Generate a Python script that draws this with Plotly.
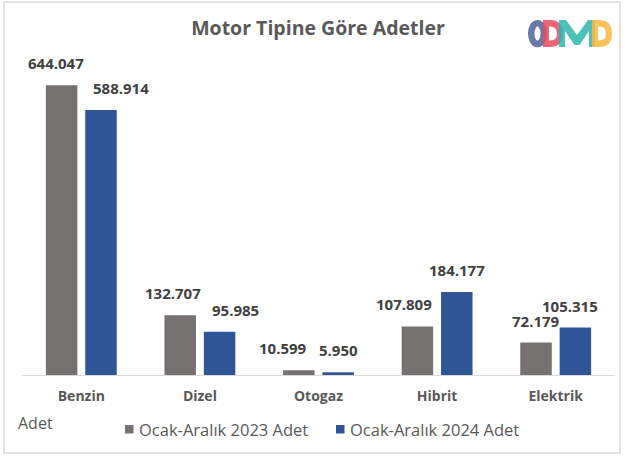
import plotly.graph_objects as go

# Data
categories = ["Benzin", "Dizel", "Otogaz", "Hibrit", "Elektrik"]
adet_2023 = [644047, 132707, 10599, 107809, 72179]
adet_2024 = [588914, 95985, 5950, 184177, 105315]
series_names = ["Ocak-Aralık 2023 Adet", "Ocak-Aralık 2024 Adet"]

# per-label horizontal nudges (px), as placed in the original
nudge_2023 = [-5, -7, -16, -13, 0]
nudge_2024 = [20, 16, 0, 0, -6]

W, H = 625, 456
L, R, T, B = 22, 10, 60, 81
GRAY = "#767171"
BLUE = "#2F5597"
FONT = "Open Sans"


def px(x):
    return (x - L) / (W - L - R)


def py(y):
    return (H - B - y) / (H - T - B)


def pt(x, y):
    return f"{px(x):.5f},{py(y):.5f}"


fig = go.Figure()
fig.add_trace(go.Bar(x=categories, y=adet_2023, name=series_names[0],
                     marker=dict(color=GRAY, line=dict(width=0))))
fig.add_trace(go.Bar(x=categories, y=adet_2024, name=series_names[1],
                     marker=dict(color=BLUE, line=dict(width=0))))


def fmt(v):
    return f"{v:,}".replace(",", ".")


# data labels
for vals, shift, nudges in [(adet_2023, -20, nudge_2023), (adet_2024, 20, nudge_2024)]:
    for c, v, n in zip(categories, vals, nudges):
        fig.add_annotation(x=c, y=v, text=fmt(v), showarrow=False,
                           xshift=shift + n, yshift=10, yanchor="bottom",
                           font=dict(family=FONT, size=15, color="#404040", weight="bold"))

# chart border
fig.add_shape(type="rect", xref="paper", yref="paper",
              x0=px(4), x1=px(620), y0=py(453), y1=py(2),
              line=dict(color="#D9D9D9", width=1.5), layer="below")

# unit label
fig.add_annotation(xref="paper", yref="paper", x=px(16), y=py(423),
                   xanchor="left", yanchor="middle",
                   text="Adet", showarrow=False,
                   font=dict(family=FONT, size=16, color="#595959"))

# legend drawn by hand (square swatch close to the text, as in the original)
for name, col, sx in [(series_names[0], GRAY, 125), (series_names[1], BLUE, 336)]:
    fig.add_shape(type="rect", xref="paper", yref="paper",
                  x0=px(sx), x1=px(sx + 8.5), y0=py(433.5), y1=py(425),
                  fillcolor=col, line=dict(width=0))
    fig.add_annotation(xref="paper", yref="paper", x=px(sx + 12), y=py(429.5),
                       xanchor="left", yanchor="middle", text=name, showarrow=False,
                       font=dict(family=FONT, size=16.5, color="#595959"))


# logo: O D M D as overlapping translucent filled glyphs
def d_glyph(x0):
    outer = (f"M{pt(x0, 20)} L{pt(x0 + 7, 20)} Q{pt(x0 + 20, 20)} {pt(x0 + 20, 33.5)} "
             f"Q{pt(x0 + 20, 47)} {pt(x0 + 7, 47)} L{pt(x0, 47)} Z")
    inner = (f"M{pt(x0 + 6, 26.5)} L{pt(x0 + 6, 40.5)} L{pt(x0 + 7, 40.5)} "
             f"Q{pt(x0 + 14, 40.5)} {pt(x0 + 14, 33.5)} Q{pt(x0 + 14, 26.5)} {pt(x0 + 7, 26.5)} Z")
    return outer + " " + inner


op = 0.85
fig.add_shape(type="circle", xref="paper", yref="paper",
              x0=px(531.2), x1=px(543.8), y0=py(44), y1=py(23.2),
              line=dict(color="#4F6198", width=6.5), opacity=op)
fig.add_shape(type="path", xref="paper", yref="paper", path=d_glyph(543),
              fillcolor="#E84A5F", line=dict(width=0), opacity=op)
m_path = (f"M{pt(559, 47)} L{pt(559, 20)} L{pt(566, 20)} L{pt(577, 35)} L{pt(588, 20)} "
          f"L{pt(595, 20)} L{pt(595, 47)} L{pt(589, 47)} L{pt(589, 31)} L{pt(579.5, 45)} "
          f"L{pt(574.5, 45)} L{pt(565, 31)} L{pt(565, 47)} Z")
fig.add_shape(type="path", xref="paper", yref="paper", path=m_path,
              fillcolor="#2BB8AB", line=dict(width=0), opacity=op)
fig.add_shape(type="path", xref="paper", yref="paper", path=d_glyph(592),
              fillcolor="#F9B73F", line=dict(width=0), opacity=op)

fig.update_layout(
    width=W, height=H,
    margin=dict(l=L, r=R, t=T, b=B),
    paper_bgcolor="white", plot_bgcolor="white",
    title=dict(text="Motor Tipine Göre Adetler", x=318 / W, xanchor="center",
               y=1 - 28 / H, yanchor="middle",
               font=dict(family=FONT, size=19.5, color="#595959", weight="bold")),
    barmode="group", bargap=0.336, bargroupgap=0.2,
    showlegend=False,
    font=dict(family=FONT),
)
fig.update_xaxes(showline=True, linecolor="#D9D9D9", linewidth=1, ticks="",
                 tickfont=dict(family=FONT, size=14, color="#595959", weight="bold"),
                 ticklabelstandoff=8)
fig.update_yaxes(range=[0, 700000], visible=False, showgrid=False)

# page has a default 8px body margin; drop it so the chart sits at the window corner
fig.write_html("out.html", config={"displayModeBar": False},
               post_script="document.body.style.margin='0';")
